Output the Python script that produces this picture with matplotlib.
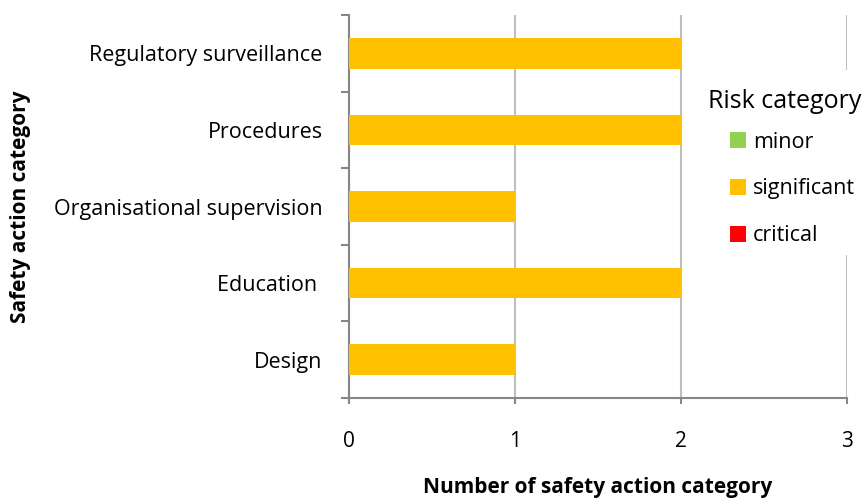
import matplotlib
matplotlib.use("Agg")
import matplotlib.pyplot as plt
from matplotlib.patches import Rectangle
import numpy as np

plt.rcParams['font.family'] = ['Open Sans', 'DejaVu Sans']

categories = ["Design", "Education ", "Organisational supervision", "Procedures", "Regulatory surveillance"]
minor = [0, 0, 0, 0, 0]
significant = [1, 2, 1, 2, 2]
critical = [0, 0, 0, 0, 0]
x_ticks = [0, 1, 2, 3]

colors = {"minor": "#92D050", "significant": "#FFC000", "critical": "#FF0000"}
axis_gray = "#868686"
grid_gray = "#BFBFBF"

W, H = 864, 500
fig = plt.figure(figsize=(W / 100, H / 100), dpi=100)
ax = fig.add_axes([349 / W, 1 - 398 / H, (847 - 349) / W, (398 - 15) / H])

y = np.arange(len(categories))
left = np.zeros(len(categories))
handles = []
for name, vals in (("minor", minor), ("significant", significant), ("critical", critical)):
    h = ax.barh(y, vals, left=left, height=0.4, color=colors[name], label=name, zorder=3)
    handles.append(h)
    left = left + np.array(vals)

ax.set_xlim(0, 3)
ax.set_ylim(-0.5, len(categories) - 0.5)
ax.set_xticks(x_ticks)
ax.set_xticklabels([str(t) for t in x_ticks], fontsize=15)
ax.set_yticks(y)
ax.set_yticklabels(categories, fontsize=15.5)
ax.set_yticks(np.arange(-0.5, len(categories), 1), minor=True)

ax.tick_params(axis='y', which='major', length=0, pad=19)
ax.tick_params(axis='y', which='minor', length=6, width=1.5, color=axis_gray)
ax.tick_params(axis='x', which='major', length=4, width=1.5, color=axis_gray, pad=20)

for side in ("top", "right"):
    ax.spines[side].set_visible(False)
for side in ("left", "bottom"):
    ax.spines[side].set_color(axis_gray)
    ax.spines[side].set_linewidth(1.5)

ax.xaxis.grid(True, color=grid_gray, linewidth=1.5, zorder=0)
ax.set_axisbelow(True)

ax.set_xlabel("Number of safety action category", fontsize=15, fontweight='bold', va='center')
ax.xaxis.set_label_coords(0.5, -(488 - 398) / (398 - 15))
ax.set_ylabel("Safety action category", fontsize=15, fontweight='bold', va='center')
ax.yaxis.set_label_coords(-(349 - 20) / (847 - 349), 0.5)

# white panel behind the legend, masking the gridline there
fig.add_artist(Rectangle((700 / W, 1 - 255 / H), 164 / W, 185 / H,
                         transform=fig.transFigure, facecolor="white",
                         edgecolor="none", zorder=1))
fig.text(708 / W, 1 - 102 / H, "Risk category", fontsize=18, ha='left', va='center', zorder=6)

leg = fig.legend(handles=handles, labels=["minor", "significant", "critical"],
                 loc="center left", bbox_to_anchor=(713 / W, 1 - 189 / H),
                 frameon=False, fontsize=15.5,
                 handlelength=0.75, handleheight=0.75, handletextpad=0.3,
                 labelspacing=1.2, borderpad=0.3)

fig.savefig("out.png", dpi=100)
